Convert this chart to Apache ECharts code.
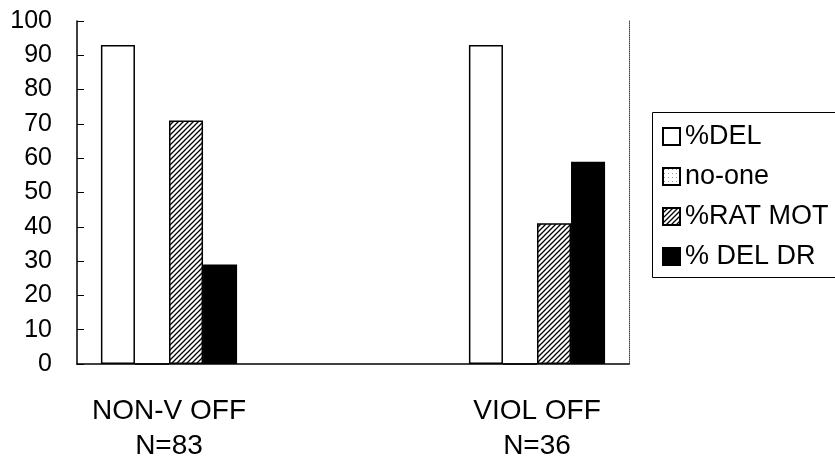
<!DOCTYPE html>
<html>
<head>
<meta charset="utf-8">
<script src="https://cdn.jsdelivr.net/npm/echarts@6/dist/echarts.min.js"></script>
<style>
html, body { margin: 0; padding: 0; background: #fff; }
#main { width: 835px; height: 459px; }
</style>
</head>
<body>
<div id="main"></div>
<script>
// categories (middle slot is empty in the original)
var categories = ['NON-V OFF\nN=83', '', 'VIOL OFF\nN=36'];
var seriesNames = ['%DEL', 'no-one', '%RAT MOT', '% DEL DR'];
var delVals = [93, null, 93];
var noOneVals = [0, null, 0];
var ratMotVals = [71, null, 41];
var delDrVals = [29, null, 59];

// hatch pattern ////
function hatch() {
	var c = document.createElement('canvas');
	c.width = c.height = 5;
	var g = c.getContext('2d');
	g.fillStyle = '#fff';
	g.fillRect(0, 0, 5, 5);
	g.strokeStyle = '#000';
	g.lineWidth = 1.3;
	g.beginPath();
	g.moveTo(0, 5); g.lineTo(5, 0);
	g.moveTo(-1, 1); g.lineTo(1, -1);
	g.moveTo(4, 6); g.lineTo(6, 4);
	g.stroke();
	return c;
}
// light dots
function dots() {
	var c = document.createElement('canvas');
	c.width = c.height = 4;
	var g = c.getContext('2d');
	g.fillStyle = '#fff';
	g.fillRect(0, 0, 4, 4);
	g.fillStyle = '#999';
	g.fillRect(1, 1, 1, 1);
	return c;
}

var font = 'Liberation Sans';
var fills = ['#fff', {image: dots(), repeat: 'repeat'}, {image: hatch(), repeat: 'repeat'}, '#000'];
var datas = [delVals, noOneVals, ratMotVals, delDrVals];

var series = [];
for (var i = 0; i < seriesNames.length; i++) {
	series.push({
		name: seriesNames[i],
		type: 'bar',
		data: datas[i],
		barGap: '0%',
		barCategoryGap: '26%',
		itemStyle: {color: fills[i], borderColor: '#000', borderWidth: 1.5},
		emphasis: {disabled: true}
	});
}

var myChart = echarts.init(document.getElementById('main'));
myChart.setOption({
	animation: false,
	textStyle: {fontFamily: font, color: '#000'},
	grid: {left: 77, right: 206, top: 21, bottom: 95, outerBoundsMode: 'none'},
	// legend frame runs off the right edge like the original
	graphic: [{
		type: 'rect',
		left: 650,
		top: 110,
		shape: {width: 220, height: 165},
		style: {fill: 'none', stroke: '#000', lineWidth: 1},
		silent: true
	}],
	legend: {
		orient: 'vertical',
		left: 650,
		top: 110,
		padding: [13, 0, 8, 12],
		icon: 'rect',
		itemWidth: 17,
		itemHeight: 17,
		itemGap: 13,
		itemTextGap: 7,
		textStyle: {fontFamily: font, fontSize: 27, lineHeight: 26, color: '#000'},
		data: seriesNames
	},
	xAxis: [
		{
			type: 'category',
			data: categories,
			axisLine: {lineStyle: {color: '#000', width: 1.5}},
			axisTick: {inside: true, length: 8, lineStyle: {color: '#000'}},
			axisLabel: {fontFamily: font, fontSize: 28, lineHeight: 35, color: '#000', margin: 30}
		},
		{
			type: 'category',
			position: 'top',
			data: categories,
			axisLine: {lineStyle: {color: '#444', width: 1, type: 'dotted'}},
			axisTick: {show: false},
			axisLabel: {show: false}
		}
	],
	yAxis: [
		{
			type: 'value',
			min: 0,
			max: 100,
			interval: 10,
			splitLine: {show: false},
			axisLine: {show: true, lineStyle: {color: '#000', width: 1.5}},
			axisTick: {show: true, inside: true, length: 7, lineStyle: {color: '#000'}},
			axisLabel: {fontFamily: font, fontSize: 25, color: '#000', margin: 25}
		},
		{
			type: 'value',
			position: 'right',
			min: 0,
			max: 100,
			interval: 10,
			splitLine: {show: false},
			axisLine: {show: true, lineStyle: {color: '#444', width: 1, type: 'dotted'}},
			axisTick: {show: false},
			axisLabel: {show: false}
		}
	],
	series: series
});
</script>
</body>
</html>
